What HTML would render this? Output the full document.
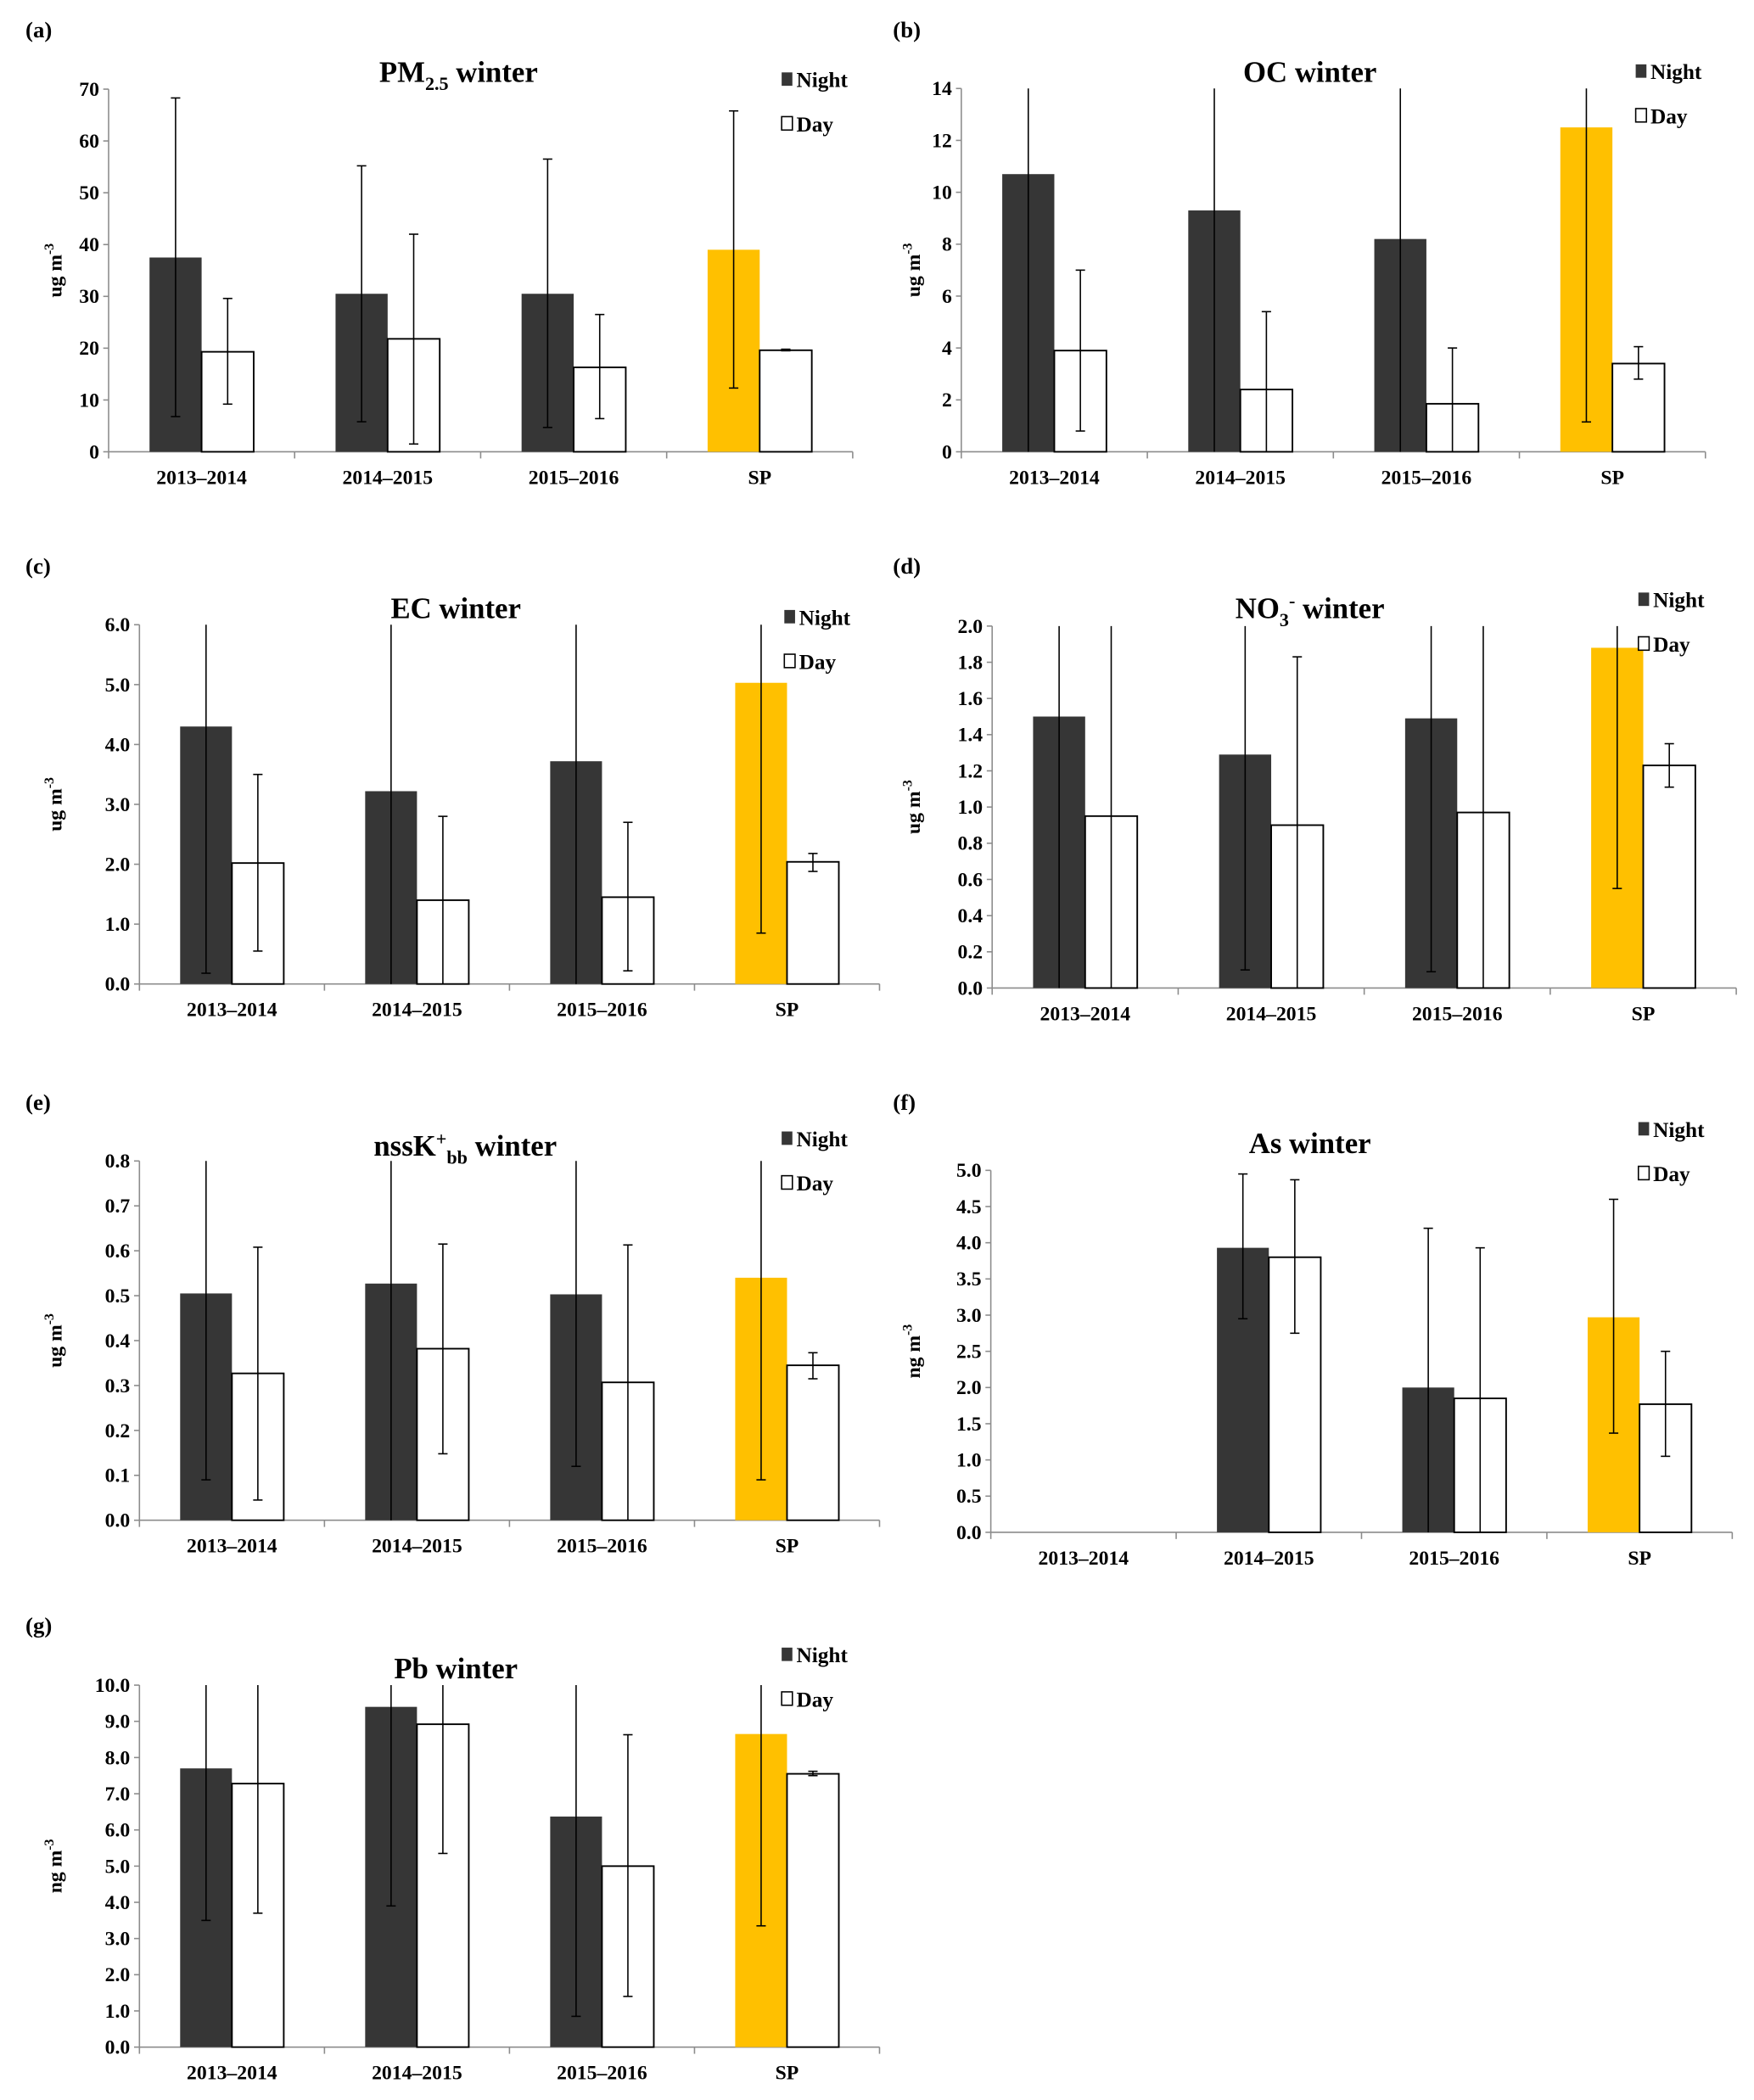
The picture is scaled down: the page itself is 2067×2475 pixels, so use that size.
<!DOCTYPE html>
<html><head><meta charset="utf-8"><style>
html,body{margin:0;padding:0;background:#fff}
svg{display:block}
text{font-family:"Liberation Serif",serif;font-weight:bold;fill:#000}
</style></head><body>
<svg id="fig" width="2067" height="2475" viewBox="0 0 2067 2475" xmlns="http://www.w3.org/2000/svg">
<g id="root" transform="scale(1.58)"></g>
</svg>
<script>
const categories = ["2013–2014","2014–2015","2015–2016","SP"];
// (a) PM2.5
const pmNight = [37.5,30.5,30.5,39.0];
const pmNightErr = [[6.8,68.3],[5.8,55.2],[4.7,56.5],[12.3,65.8]];
const pmDay = [19.3,21.8,16.3,19.6];
const pmDayErr = [[9.2,29.6],[1.5,42.0],[6.4,26.5],[19.5,19.8]];
const pmTicks = [0,10,20,30,40,50,60,70];
// (b) OC
const ocNight = [10.7,9.3,8.2,12.5];
const ocNightErr = [[-1,99],[-1,99],[-1,99],[1.15,99]];
const ocDay = [3.9,2.4,1.85,3.4];
const ocDayErr = [[0.8,7.0],[-1,5.4],[-1,4.0],[2.8,4.05]];
const ocTicks = [0,2,4,6,8,10,12,14];
// (c) EC
const ecNight = [4.3,3.22,3.72,5.03];
const ecNightErr = [[0.18,99],[-1,99],[-1,99],[0.85,99]];
const ecDay = [2.02,1.4,1.45,2.04];
const ecDayErr = [[0.55,3.5],[-1,2.8],[0.22,2.7],[1.88,2.18]];
const ecTicks = [0,1,2,3,4,5,6];
// (d) NO3-
const noNight = [1.5,1.29,1.49,1.88];
const noNightErr = [[-1,99],[0.1,99],[0.09,99],[0.55,99]];
const noDay = [0.95,0.9,0.97,1.23];
const noDayErr = [[-1,99],[-1,1.83],[-1,99],[1.11,1.35]];
const noTicks = [0,0.2,0.4,0.6,0.8,1.0,1.2,1.4,1.6,1.8,2.0];
// (e) nssK+bb
const kNight = [0.505,0.527,0.503,0.54];
const kNightErr = [[0.09,99],[-1,99],[0.12,99],[0.09,99]];
const kDay = [0.327,0.382,0.307,0.345];
const kDayErr = [[0.045,0.608],[0.148,0.615],[-1,0.613],[0.315,0.373]];
const kTicks = [0,0.1,0.2,0.3,0.4,0.5,0.6,0.7,0.8];
// (f) As
const asNight = [null,3.93,2.0,2.97];
const asNightErr = [null,[2.95,4.95],[-1,4.2],[1.37,4.6]];
const asDay = [null,3.8,1.85,1.77];
const asDayErr = [null,[2.75,4.87],[-1,3.93],[1.05,2.5]];
const asTicks = [0,0.5,1,1.5,2,2.5,3,3.5,4,4.5,5];
// (g) Pb
const pbNight = [7.7,9.4,6.37,8.65];
const pbNightErr = [[3.5,99],[3.9,99],[0.85,99],[3.35,99]];
const pbDay = [7.28,8.92,5.0,7.55];
const pbDayErr = [[3.7,99],[5.35,99],[1.4,8.63],[7.5,7.62]];
const pbTicks = [0,1,2,3,4,5,6,7,8,9,10];

const NS="http://www.w3.org/2000/svg";
const root=document.getElementById('root');
function mk(tag,attrs,parent){const e=document.createElementNS(NS,tag);for(const k in attrs)e.setAttribute(k,attrs[k]);(parent||root).appendChild(e);return e;}

const panels=[
 {id:'a',lab:[19,22],ylx:46,x0:81,x1:636,yt:66.5,yb:337,ticks:pmTicks,dec:0,night:pmNight,ne:pmNightErr,day:pmDay,de:pmDayErr,title:[['PM',0],['2.5',1],[' winter',0]],tx:342,ty:61,lx:583,ly:60,unit:'ug'},
 {id:'b',lab:[666,22],ylx:686,x0:717,x1:1272,yt:66,yb:337,ticks:ocTicks,dec:0,night:ocNight,ne:ocNightErr,day:ocDay,de:ocDayErr,title:[['OC winter',0]],tx:977,ty:61,lx:1220,ly:54,unit:'ug'},
 {id:'c',lab:[19,422],ylx:46,x0:104,x1:656,yt:466,yb:734,ticks:ecTicks,dec:1,night:ecNight,ne:ecNightErr,day:ecDay,de:ecDayErr,title:[['EC winter',0]],tx:340,ty:461,lx:585,ly:461,unit:'ug'},
 {id:'d',lab:[666,422],ylx:686,x0:740,x1:1295,yt:467,yb:737,ticks:noTicks,dec:1,night:noNight,ne:noNightErr,day:noDay,de:noDayErr,title:[['NO',0],['3',1],['-',2],[' winter',0]],tx:977,ty:461,lx:1222,ly:448,unit:'ug'},
 {id:'e',lab:[19,822],ylx:46,x0:104,x1:656,yt:866,yb:1134,ticks:kTicks,dec:1,night:kNight,ne:kNightErr,day:kDay,de:kDayErr,title:[['nssK',0],['+',2],['bb',1],[' winter',0]],tx:347,ty:862,lx:583,ly:850,unit:'ug'},
 {id:'f',lab:[666,822],ylx:686,x0:739,x1:1292,yt:873,yb:1143,ticks:asTicks,dec:1,night:asNight,ne:asNightErr,day:asDay,de:asDayErr,title:[['As winter',0]],tx:977,ty:860,lx:1222,ly:843,unit:'ng'},
 {id:'g',lab:[19,1212],ylx:46,x0:104,x1:656,yt:1257,yb:1527,ticks:pbTicks,dec:1,night:pbNight,ne:pbNightErr,day:pbDay,de:pbDayErr,title:[['Pb winter',0]],tx:340,ty:1252,lx:583,ly:1235,unit:'ng'}
];

panels.forEach(p=>{
 const g=mk('g',{});
 
 
 const max=p.ticks[p.ticks.length-1];
 const y=v=>p.yb-(Math.max(0,Math.min(max,v))/max)*(p.yb-p.yt);
 const cw=(p.x1-p.x0)/categories.length;
 const bw=cw*0.28;
 const pl=mk('text',{x:p.lab[0],y:p.lab[1]+6,'font-size':17},g);pl.textContent='('+p.id+')';
 
 
 const t=mk('text',{x:p.tx,y:p.ty,'font-size':22,'text-anchor':'middle'},g);
 
 
 let cur=0;
 p.title.forEach(([s,k])=>{const target=k===1?6:(k===2?-8:0);const ts=mk('tspan',{dy:target-cur,'font-size':k?14:22},t);ts.textContent=s;cur=target;});
 const ya=mk('line',{x1:p.x0,y1:p.yt,x2:p.x0,y2:p.yb,stroke:'#8c8c8c','stroke-width':1},g);
 
 
 const xa=mk('line',{x1:p.x0,y1:p.yb,x2:p.x1,y2:p.yb,stroke:'#8c8c8c','stroke-width':1},g);
 
 
 p.ticks.forEach(v=>{
  mk('line',{x1:p.x0-4,x2:p.x0,y1:y(v),y2:y(v),stroke:'#8c8c8c'},g);
  const tl=mk('text',{x:p.x0-7,y:y(v)+5,'font-size':15,'text-anchor':'end'},g);
  tl.textContent=v.toFixed(p.dec);
  
  
 });
 for(let i=0;i<=categories.length;i++)mk('line',{x1:p.x0+i*cw,x2:p.x0+i*cw,y1:p.yb,y2:p.yb+5,stroke:'#8c8c8c'},g);
 const yl=mk('text',{transform:`translate(${p.ylx},${(p.yt+p.yb)/2}) rotate(-90)`,'font-size':15,'text-anchor':'middle'},g);
 
 
 const a1=mk('tspan',{},yl);a1.textContent=p.unit+' m';
 const a2=mk('tspan',{dy:-6,'font-size':10},yl);a2.textContent='-3';
 categories.forEach((c,i)=>{
  const cx=p.x0+cw*(i+0.5);
  const cl=mk('text',{x:cx,y:p.yb+24,'font-size':15,'text-anchor':'middle'},g);
  cl.textContent=c;
  
  
  const drawErr=(xc,e)=>{
   if(!e)return;
   const ya_=y(e[0]),yb_=y(e[1]);
   mk('line',{x1:xc,x2:xc,y1:ya_,y2:yb_,stroke:'#000','stroke-width':1},g);
   if(e[0]>=0&&e[0]<=max)mk('line',{x1:xc-3.5,x2:xc+3.5,y1:ya_,y2:ya_,stroke:'#000','stroke-width':1},g);
   if(e[1]<=max&&e[1]>=0)mk('line',{x1:xc-3.5,x2:xc+3.5,y1:yb_,y2:yb_,stroke:'#000','stroke-width':1},g);
  };
  if(p.night[i]!=null){
   const r=mk('rect',{x:cx-bw,y:y(p.night[i]),width:bw,height:p.yb-y(p.night[i]),fill:i===3?'#FFC000':'#363636'},g);
   
   
  }
  if(p.day[i]!=null){
   const r=mk('rect',{x:cx,y:y(p.day[i]),width:bw,height:p.yb-y(p.day[i]),fill:'#fff',stroke:'#000','stroke-width':1.2},g);
   
   
  }
  drawErr(cx-bw/2,p.ne[i]);
  drawErr(cx+bw/2,p.de[i]);
 });
 const l1=mk('g',{},g);
 
 
 mk('rect',{x:p.lx,y:p.ly-6,width:8,height:10,fill:'#363636'},l1);
 const lt1=mk('text',{x:p.lx+11,y:p.ly+5,'font-size':16},l1);lt1.textContent='Night';
 const l2=mk('g',{},g);
 
 
 mk('rect',{x:p.lx,y:p.ly+27,width:8,height:10,fill:'#fff',stroke:'#000','stroke-width':1},l2);
 const lt2=mk('text',{x:p.lx+11,y:p.ly+38,'font-size':16},l2);lt2.textContent='Day';
});
</script>
</body></html>
